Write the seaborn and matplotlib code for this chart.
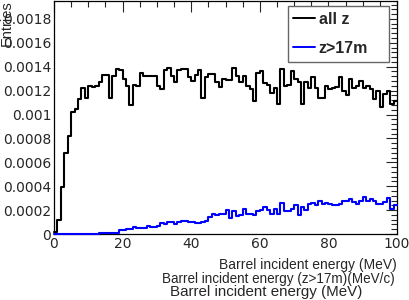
import numpy as np
import pandas as pd
import matplotlib
matplotlib.use("Agg")
import matplotlib.pyplot as plt
from matplotlib.lines import Line2D
from matplotlib.patches import Rectangle
from matplotlib.ticker import MultipleLocator, FuncFormatter
import seaborn as sns

# 100 bins of 1 MeV, 0..100 MeV
e_min, e_max, bin_width = 0, 100, 1

all_z = [
    0.00002, 0.00012, 0.00039, 0.00068, 0.00082, 0.00102, 0.00105, 0.00113, 0.00122, 0.00114,
    0.00124, 0.00123, 0.00124, 0.00127, 0.00133, 0.00133, 0.00114, 0.00132, 0.00138, 0.00137,
    0.00130, 0.00124, 0.00108, 0.00125, 0.00124, 0.00135, 0.00132, 0.00132, 0.00132, 0.00132,
    0.00124, 0.00121, 0.00137, 0.00139, 0.00132, 0.00127, 0.00137, 0.00138, 0.00138, 0.00131,
    0.00128, 0.00133, 0.00137, 0.00114, 0.00131, 0.00134, 0.00134, 0.00127, 0.00123, 0.00130,
    0.00129, 0.00129, 0.00139, 0.00132, 0.00127, 0.00132, 0.00124, 0.00121, 0.00111, 0.00135,
    0.00136, 0.00126, 0.00125, 0.00118, 0.00122, 0.00109, 0.00138, 0.00124, 0.00125, 0.00136,
    0.00130, 0.00127, 0.00109, 0.00127, 0.00122, 0.00131, 0.00122, 0.00114, 0.00114, 0.00124,
    0.00121, 0.00122, 0.00123, 0.00131, 0.00120, 0.00116, 0.00130, 0.00122, 0.00124, 0.00128,
    0.00122, 0.00124, 0.00121, 0.00113, 0.00120, 0.00106, 0.00117, 0.00120, 0.00109, 0.00111,
]

z_gt_17m = [
    0.0, 0.0, 0.0, 0.0, 0.0, 0.0, 0.0, 0.0, 0.0, 0.0,
    0.0, 0.0, 0.000002, 0.00001, 0.00001, 0.000005, 0.000005, 0.000005, 0.00001, 0.00003,
    0.00003, 0.00004, 0.00004, 0.00006, 0.00005, 0.00005, 0.00005, 0.00007, 0.00006, 0.00006,
    0.00007, 0.00009, 0.00008, 0.00010, 0.00010, 0.00008, 0.00010, 0.00011, 0.00011, 0.00010,
    0.00010, 0.00009, 0.00009, 0.00010, 0.00011, 0.00014, 0.00017, 0.00016, 0.00017, 0.00017,
    0.00020, 0.00013, 0.00019, 0.00015, 0.00016, 0.00021, 0.00017, 0.00017, 0.00016, 0.00019,
    0.00020, 0.00023, 0.00020, 0.00017, 0.00021, 0.00017, 0.00026, 0.00019, 0.00019, 0.00021,
    0.00024, 0.00016, 0.00023, 0.00020, 0.00025, 0.00026, 0.00024, 0.00028, 0.00025, 0.00026,
    0.00025, 0.00024, 0.00024, 0.00025, 0.00028, 0.00028, 0.00029, 0.00027, 0.00025, 0.00028,
    0.00031, 0.00028, 0.00029, 0.00028, 0.00025, 0.00025, 0.00027, 0.00030, 0.00021, 0.00024,
]

series_names = ["all z", "z>17m"]
series_colors = ["black", "#0000ff"]

centers = np.arange(e_min, e_max, bin_width) + bin_width / 2
df = pd.concat([
    pd.DataFrame({"energy": centers, "w": all_z, "series": "all z"}),
    pd.DataFrame({"energy": centers, "w": z_gt_17m, "series": "z>17m"}),
], ignore_index=True)

sns.set_style("white")
plt.rcParams["font.family"] = ["Liberation Sans", "DejaVu Sans"]

fig = plt.figure(figsize=(4.09, 3.0), dpi=100)
ax = fig.add_axes([54 / 409, 66 / 300, 343 / 409, 233 / 300])

for i, (name, col) in enumerate(zip(series_names, series_colors)):
    sub = df[df["series"] == name].reset_index(drop=True)
    sns.histplot(data=sub, x="energy", weights="w", binwidth=bin_width, binrange=(e_min, e_max),
                 element="step", fill=False, color=col, linewidth=1.5, ax=ax,
                 zorder=3 + i, clip_on=False)

ax.set_xlim(0, 100)
ax.set_ylim(0, 0.00195)
ax.set_xlabel("")
ax.set_ylabel("")

ax.xaxis.set_major_locator(MultipleLocator(20))
ax.xaxis.set_minor_locator(MultipleLocator(5))
ax.yaxis.set_major_locator(MultipleLocator(0.0002))
ax.yaxis.set_minor_locator(MultipleLocator(0.00004))
ax.yaxis.set_major_formatter(FuncFormatter(lambda v, p: "%g" % round(v, 6)))
ax.tick_params(which="both", direction="in", top=True, right=True, labelsize=10, pad=2)
ax.tick_params(which="major", length=8, width=0.8)
ax.tick_params(which="minor", length=4, width=0.8)
for lab in ax.get_xticklabels() + ax.get_yticklabels():
    lab.set_family("DejaVu Sans")
for s in ax.spines.values():
    s.set_color("black")
    s.set_linewidth(0.9)

# ROOT style overlapping axis titles
fig.text(397 / 409, 1 - 265 / 300, "Barrel incident energy (MeV)", ha="right", va="center", fontsize=10)
fig.text(395 / 409, 1 - 279 / 300, "Barrel incident energy (z>17m)(MeV/c)", ha="right", va="center", fontsize=9.75)
fig.text(362 / 409, 1 - 292 / 300, "Barrel incident energy (MeV)", ha="right", va="center", fontsize=10.9)
fig.text(7 / 409, 1.0, "Entries", rotation=90, ha="center", va="top", fontsize=10.5)

# legend box
ax.add_patch(Rectangle((288 / 409, 1 - 62 / 300), 101 / 409, 56 / 300, transform=fig.transFigure,
                       facecolor="white", edgecolor="#666666", linewidth=1.0, zorder=5, clip_on=False))
handles = [Line2D([0], [0], color=c, lw=1.4) for c in series_colors]
leg = ax.legend(handles, series_names, loc="upper left", bbox_to_anchor=(293 / 409, 1 - 12 / 300),
                bbox_transform=fig.transFigure, frameon=False, borderpad=0, borderaxespad=0,
                handlelength=1.4, handletextpad=0.2, labelspacing=0.85,
                prop={"weight": "bold", "size": 11.5})
leg.set_zorder(6)

fig.savefig("out.png", dpi=100)
